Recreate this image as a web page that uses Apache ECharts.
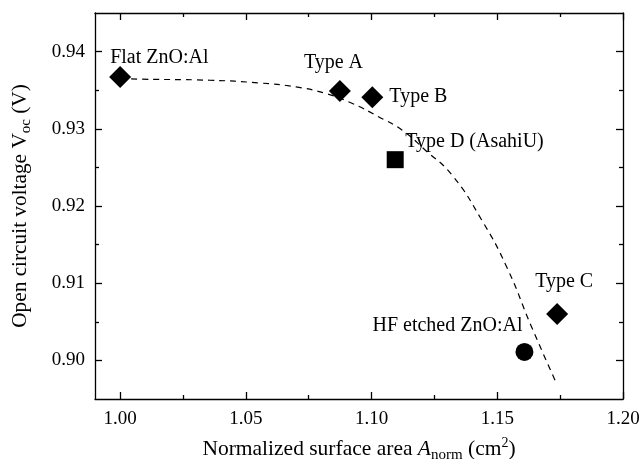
<!DOCTYPE html>
<html>
<head>
<meta charset="utf-8">
<script src="https://cdn.jsdelivr.net/npm/echarts@6/dist/echarts.min.js"></script>
<style>
  html, body { margin: 0; padding: 0; background: #fff; }
  #chart { width: 643px; height: 459px; }
</style>
</head>
<body>
<div id="chart"></div>
<script>
// Measured samples: normalized surface area vs. open circuit voltage
const sampleNames = ['Flat ZnO:Al', 'Type A', 'Type B', 'Type D (AsahiU)', 'Type C', 'HF etched ZnO:Al'];
const sampleArea  = [1.000, 1.0874, 1.1003, 1.1094, 1.1738, 1.1608];
const sampleVoc   = [0.9367, 0.9349, 0.9341, 0.9260, 0.9060, 0.9011];

// Guide-to-the-eye trend curve (dashed)
const fitArea = [1.000, 1.0040, 1.0356, 1.0554, 1.0700, 1.0818, 1.0924, 1.1029, 1.1122, 1.1214, 1.1320, 1.1438, 1.1537, 1.1636, 1.1735];
const fitVoc  = [0.9366, 0.93646, 0.93629, 0.93594, 0.93542, 0.93457, 0.93327, 0.93154, 0.92982, 0.92723, 0.92400, 0.91818, 0.91214, 0.90437, 0.89705];

// Axis tick values
const xMajorTicks = [1.00, 1.05, 1.10, 1.15, 1.20];
const xMinorTicks = [1.025, 1.075, 1.125, 1.175];
const yMajorTicks = [0.90, 0.91, 0.92, 0.93, 0.94];
const yMinorTicks = [0.905, 0.915, 0.925, 0.935];

const FONT = '"Liberation Serif", "DejaVu Serif", serif';
const INK = '#000';
const X_RANGE = [0.99, 1.20];
const Y_RANGE = [0.895, 0.945];

// Marker shape and label placement per sample
const markerStyle = {
  'Flat ZnO:Al':      { symbol: 'diamond', size: 22, align: 'left',  offset: [-10, -19.5] },
  'Type A':           { symbol: 'diamond', size: 22, align: 'left',  offset: [-36, -28] },
  'Type B':           { symbol: 'diamond', size: 22, align: 'left',  offset: [17, 0] },
  'Type D (AsahiU)':  { symbol: 'rect',    size: 17, align: 'left',  offset: [10, -17.5] },
  'Type C':           { symbol: 'diamond', size: 22, align: 'left',  offset: [-22, -32] },
  'HF etched ZnO:Al': { symbol: 'circle',  size: 18, align: 'right', offset: [-2, -26] }
};

const sampleData = sampleNames.map((name, i) => {
  const st = markerStyle[name];
  return {
    name: name,
    value: [sampleArea[i], sampleVoc[i]],
    symbol: st.symbol,
    symbolSize: st.size,
    label: { align: st.align, offset: st.offset }
  };
});
const fitData = fitArea.map((x, i) => [x, fitVoc[i]]);

const lineStyle = { color: INK, width: 1.3 };

function axisDef(range, position, ticks, len, withLabels, withLine, labelMargin) {
  return {
    type: 'value', min: range[0], max: range[1], position: position,
    axisLine: { show: withLine, onZero: false, lineStyle: lineStyle },
    axisTick: { show: true, inside: true, length: len, customValues: ticks, lineStyle: lineStyle },
    axisLabel: withLabels ? {
      show: true, customValues: ticks, margin: labelMargin,
      fontFamily: FONT, fontSize: 19, color: INK,
      formatter: v => v.toFixed(2)
    } : { show: false },
    splitLine: { show: false }
  };
}

const xMain = axisDef(X_RANGE, 'bottom', xMajorTicks, 7, true, true, 11);
xMain.name = 'Normalized surface area {it|A}{sub|norm} (cm{sup|2})';
xMain.nameLocation = 'middle';
xMain.nameGap = 37;
xMain.nameTextStyle = {
  fontFamily: FONT, fontSize: 21.5, color: INK,
  rich: {
    it:  { fontFamily: FONT, fontSize: 21.5, fontStyle: 'italic', color: INK },
    sub: { fontFamily: FONT, fontSize: 15, color: INK, padding: [12, 0, 0, 0] },
    sup: { fontFamily: FONT, fontSize: 14, color: INK, padding: [0, 0, 12, 0] }
  }
};

const yMain = axisDef(Y_RANGE, 'left', yMajorTicks, 7, true, true, 10);
yMain.name = 'Open circuit voltage V{sub|oc} (V)';
yMain.nameLocation = 'middle';
yMain.nameGap = 61;
yMain.nameTextStyle = {
  fontFamily: FONT, fontSize: 21.3, color: INK,
  rich: {
    sub: { fontFamily: FONT, fontSize: 15, color: INK, padding: [12, 0, 0, 0] }
  }
};

const option = {
  backgroundColor: '#fff',
  animation: false,
  grid: { left: 95, right: 20, top: 13, bottom: 60, containLabel: false, outerBoundsMode: 'none' },
  xAxis: [
    xMain,
    axisDef(X_RANGE, 'bottom', xMinorTicks, 4, false, false),
    axisDef(X_RANGE, 'top', xMajorTicks, 7, false, true),
    axisDef(X_RANGE, 'top', xMinorTicks, 4, false, false)
  ],
  yAxis: [
    yMain,
    axisDef(Y_RANGE, 'left', yMinorTicks, 4, false, false),
    axisDef(Y_RANGE, 'right', yMajorTicks, 7, false, true),
    axisDef(Y_RANGE, 'right', yMinorTicks, 4, false, false)
  ],
  series: [
    {
      type: 'line',
      data: fitData,
      smooth: true,
      showSymbol: false,
      symbol: 'none',
      lineStyle: { color: INK, width: 1.2, type: [6, 5] },
      z: 2
    },
    {
      type: 'scatter',
      data: sampleData,
      itemStyle: { color: INK, opacity: 1 },
      emphasis: { disabled: true },
      label: {
        show: true,
        position: 'inside',
        verticalAlign: 'middle',
        formatter: p => p.name,
        fontFamily: FONT, fontSize: 20, color: INK, opacity: 1
      },
      z: 3
    }
  ]
};

const chart = echarts.init(document.getElementById('chart'), null, { renderer: 'canvas' });
chart.setOption(option);
</script>
</body>
</html>
